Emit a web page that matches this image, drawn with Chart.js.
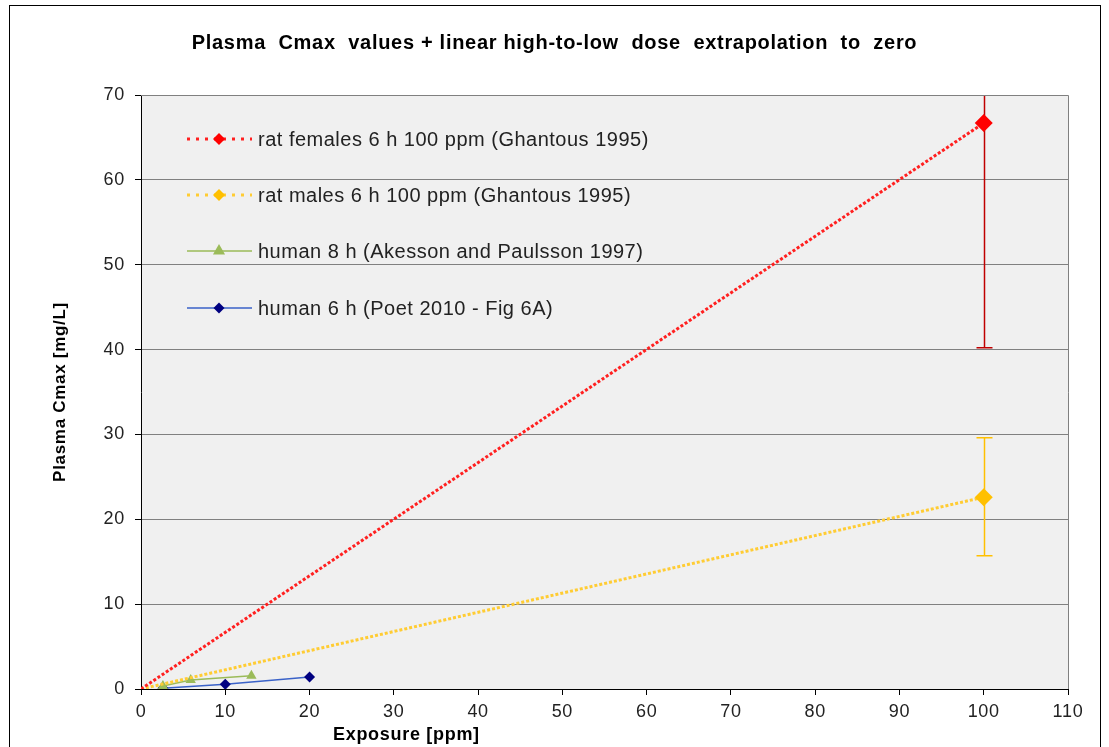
<!DOCTYPE html>
<html><head><meta charset="utf-8">
<script src="https://cdn.jsdelivr.net/npm/chart.js@4.4.0/dist/chart.umd.min.js"></script>
<style>
html,body{margin:0;padding:0;background:#fff;}
#wrap{position:relative;width:1109px;height:747px;overflow:hidden;}
#frame{position:absolute;left:9px;top:5px;width:1090px;height:780px;border:1px solid #000;pointer-events:none;}
canvas{display:block;}
</style></head><body>
<div id="wrap"><canvas id="c" width="1109" height="747"></canvas><div id="frame"></div></div>
<script>
// ---- data ----
const chartTitle = 'Plasma  Cmax  values + linear high-to-low  dose  extrapolation  to  zero';
const xAxisTitle = 'Exposure [ppm]';
const yAxisTitle = 'Plasma Cmax [mg/L]';
const xTickValues = [0,10,20,30,40,50,60,70,80,90,100,110];
const yTickValues = [0,10,20,30,40,50,60,70];

const seriesLabels = [
  'rat females 6 h 100 ppm (Ghantous 1995)',
  'rat males 6 h 100 ppm (Ghantous 1995)',
  'human 8 h (Akesson and Paulsson 1997)',
  'human 6 h (Poet 2010 - Fig 6A)'
];
const ratFemaleX = [0, 100];
const ratFemaleY = [0, 66.7];
const ratFemaleErrLow = [null, 40.2];
const ratFemaleErrHigh = [null, 93.2];
const ratMaleX = [0, 100];
const ratMaleY = [0, 22.6];
const ratMaleErrLow = [null, 15.7];
const ratMaleErrHigh = [null, 29.6];
const humanAkessonX = [2.6, 5.9, 13.1];
const humanAkessonY = [0.35, 1.05, 1.55];
const humanPoetX = [2.6, 10, 20];
const humanPoetY = [0.1, 0.55, 1.4];

const pts = (xs, ys) => xs.map((x, i) => ({x, y: ys[i]}));

const FONT = "'Liberation Sans', Arial, sans-serif";

const errorBars = [
  {ds: 0, xs: ratFemaleX, lo: ratFemaleErrLow, hi: ratFemaleErrHigh, color: '#c00000'},
  {ds: 1, xs: ratMaleX, lo: ratMaleErrLow, hi: ratMaleErrHigh, color: '#ffc000'}
];

const plotBg = {
  id: 'plotBg',
  beforeDraw(chart) {
    const {ctx, chartArea: a} = chart;
    ctx.letterSpacing = '0.7px';
    ctx.save();
    ctx.fillStyle = '#f0f0f0';
    ctx.fillRect(a.left, a.top, a.right - a.left, a.bottom - a.top);
    ctx.restore();
  },
  afterDraw(chart) {
    const {ctx, chartArea: a} = chart;
    ctx.save();
    ctx.strokeStyle = '#808080';
    ctx.lineWidth = 1;
    ctx.beginPath();
    ctx.moveTo(a.left, a.top + 0.5);
    ctx.lineTo(a.right + 0.5, a.top + 0.5);
    ctx.lineTo(a.right + 0.5, a.bottom);
    ctx.stroke();
    // x axis title
    ctx.fillStyle = '#000';
    ctx.font = 'bold 18px ' + FONT;
    ctx.textBaseline = 'middle';
    ctx.textAlign = 'left';
    ctx.fillText(xAxisTitle, 333, 735);
    ctx.restore();
    ctx.letterSpacing = '0px';
  }
};

const errPlugin = {
  id: 'errPlugin',
  beforeDatasetsDraw(chart) {
    const {ctx, chartArea: a, scales: {x, y}} = chart;
    ctx.save();
    ctx.beginPath();
    ctx.rect(a.left, a.top, a.right - a.left, a.bottom - a.top);
    ctx.clip();
    errorBars.forEach(e => {
      ctx.strokeStyle = e.color;
      ctx.lineWidth = 1.5;
      e.xs.forEach((xv, i) => {
        if (e.lo[i] == null) return;
        const px = Math.round(x.getPixelForValue(xv)) + 0.5;
        const pl = y.getPixelForValue(e.lo[i]);
        const ph = y.getPixelForValue(e.hi[i]);
        ctx.beginPath();
        ctx.moveTo(px, pl); ctx.lineTo(px, ph);
        ctx.moveTo(px - 8, pl); ctx.lineTo(px + 8, pl);
        ctx.moveTo(px - 8, ph); ctx.lineTo(px + 8, ph);
        ctx.stroke();
      });
    });
    ctx.restore();
  }
};

const legendRows = [139, 195, 251, 308];
const legendPlugin = {
  id: 'legendPlugin',
  afterDatasetsDraw(chart) {
    const {ctx} = chart;
    ctx.save();
    chart.data.datasets.forEach((ds, i) => {
      const yy = legendRows[i];
      ctx.save();
      ctx.strokeStyle = ds.borderColor;
      ctx.lineWidth = ds.borderWidth;
      ctx.setLineDash(ds.legendDash || []);
      ctx.beginPath();
      ctx.moveTo(187, yy); ctx.lineTo(252, yy);
      ctx.stroke();
      ctx.restore();
      ctx.fillStyle = ds.pointBackgroundColor;
      ctx.strokeStyle = ds.pointBackgroundColor;
      Chart.helpers.drawPoint(ctx, {pointStyle: ds.pointStyle, radius: ds.legendRadius, rotation: 0, borderWidth: 0}, 219, yy);
      ctx.fillStyle = '#222';
      ctx.font = '20px ' + FONT;
      ctx.letterSpacing = '0.5px';
      ctx.textBaseline = 'middle';
      ctx.textAlign = 'left';
      ctx.fillText(ds.label, 258, yy + 1);
    });
    ctx.restore();
  }
};

new Chart(document.getElementById('c'), {
  type: 'line',
  data: {
    datasets: [
      {label: seriesLabels[0], data: pts(ratFemaleX, ratFemaleY), borderColor: '#ff2020', borderWidth: 3, borderDash: [3, 2], legendDash: [3, 6],
       pointStyle: 'rectRot', pointRadius: [0, 9], pointBackgroundColor: '#ff0000', pointBorderWidth: 0, legendRadius: 6, tension: 0},
      {label: seriesLabels[1], data: pts(ratMaleX, ratMaleY), borderColor: '#ffcc33', borderWidth: 3, borderDash: [3, 2], legendDash: [3, 6],
       pointStyle: 'rectRot', pointRadius: [0, 9], pointBackgroundColor: '#ffc000', pointBorderWidth: 0, legendRadius: 6, tension: 0},
      {label: seriesLabels[2], data: pts(humanAkessonX, humanAkessonY), borderColor: '#9bbb59', borderWidth: 1.5,
       pointStyle: 'triangle', pointRadius: 6, pointBackgroundColor: '#9bbb59', pointBorderWidth: 0, legendRadius: 7, tension: 0},
      {label: seriesLabels[3], data: pts(humanPoetX, humanPoetY), borderColor: '#3a62c8', borderWidth: 1.5,
       pointStyle: 'rectRot', pointRadius: 5.5, pointBackgroundColor: '#000080', pointBorderWidth: 0, legendRadius: 5.5, tension: 0}
    ]
  },
  options: {
    responsive: false,
    animation: false,
    events: [],
    layout: {padding: {left: 0, right: 0, top: 0, bottom: 0}},
    plugins: {
      legend: {display: false},
      tooltip: {enabled: false},
      title: {display: true, text: chartTitle, color: '#000', font: {family: FONT, size: 20, weight: 'bold'},
              padding: {top: 31, bottom: 40}}
    },
    scales: {
      x: {
        type: 'linear', min: 0, max: 110,
        afterBuildTicks: s => { s.ticks = xTickValues.map(v => ({value: v})); },
        ticks: {color: '#222', font: {family: FONT, size: 18}, padding: 6, maxRotation: 0},
        grid: {drawOnChartArea: false, drawTicks: true, tickLength: 6, color: '#000'},
        border: {color: '#000', width: 1},
        afterFit: s => { s.height = 58; s.paddingRight = 41; }
      },
      y: {
        type: 'linear', min: 0, max: 70,
        afterBuildTicks: s => { s.ticks = yTickValues.map(v => ({value: v})); },
        ticks: {color: '#222', font: {family: FONT, size: 18}, padding: 10},
        grid: {color: '#808080', tickLength: 6, tickColor: '#000', lineWidth: 1},
        border: {color: '#000', width: 1},
        title: {display: true, text: yAxisTitle, color: '#000', font: {family: FONT, size: 17, weight: 'bold'}, padding: {top: 50, bottom: 0}},
        afterFit: s => { s.width = 141; }
      }
    }
  },
  plugins: [plotBg, errPlugin, legendPlugin]
});
</script>
</body></html>
